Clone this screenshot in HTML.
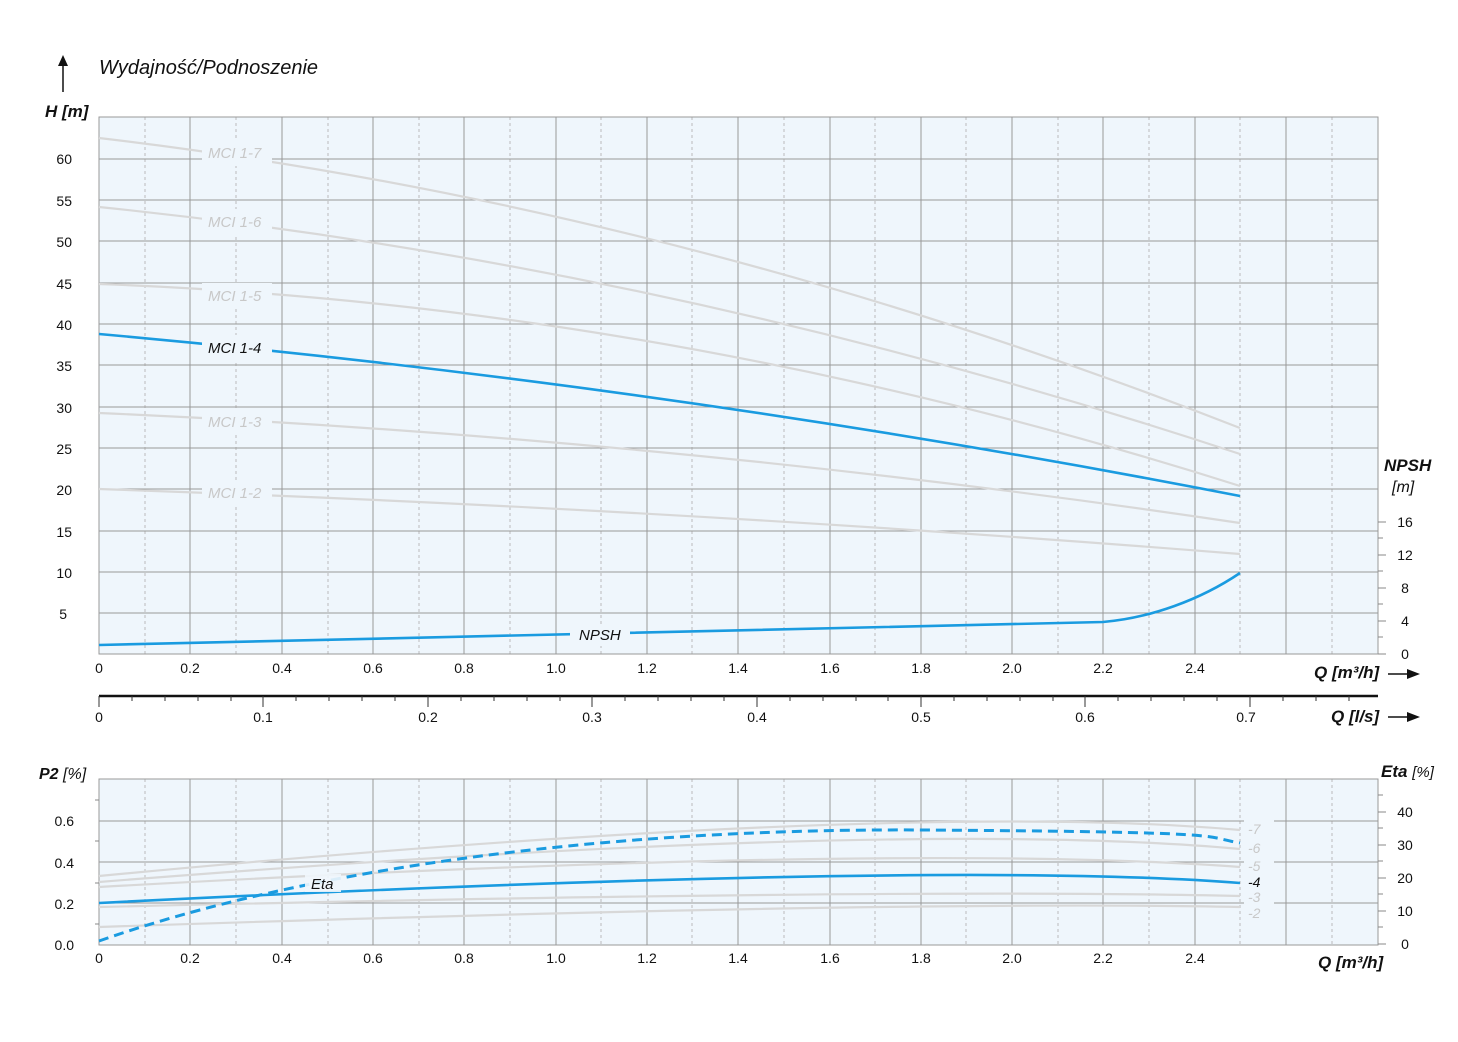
<!DOCTYPE html>
<html><head><meta charset="utf-8"><style>
html,body{margin:0;padding:0;background:#fff;}
svg{display:block;font-family:"Liberation Sans",sans-serif;}
.t{font-size:14px;fill:#111;}
.i{font-style:italic;}
</style></head><body>
<svg width="1458" height="1042" viewBox="0 0 1458 1042">
<!-- MAIN CHART -->
<rect x="99" y="117" width="1279" height="537" fill="#eff6fc"/>
<g stroke="#bbb" stroke-width="1" stroke-dasharray="3,3">
<line x1="145" y1="117" x2="145" y2="654"/><line x1="236" y1="117" x2="236" y2="654"/><line x1="328" y1="117" x2="328" y2="654"/><line x1="419" y1="117" x2="419" y2="654"/><line x1="510" y1="117" x2="510" y2="654"/><line x1="601" y1="117" x2="601" y2="654"/><line x1="692" y1="117" x2="692" y2="654"/><line x1="784" y1="117" x2="784" y2="654"/><line x1="875" y1="117" x2="875" y2="654"/><line x1="966" y1="117" x2="966" y2="654"/><line x1="1058" y1="117" x2="1058" y2="654"/><line x1="1149" y1="117" x2="1149" y2="654"/><line x1="1240" y1="117" x2="1240" y2="654"/><line x1="1332" y1="117" x2="1332" y2="654"/>
</g>
<g stroke="#999" stroke-width="1">
<line x1="190" y1="117" x2="190" y2="654"/><line x1="282" y1="117" x2="282" y2="654"/><line x1="373" y1="117" x2="373" y2="654"/><line x1="464" y1="117" x2="464" y2="654"/><line x1="556" y1="117" x2="556" y2="654"/><line x1="647" y1="117" x2="647" y2="654"/><line x1="738" y1="117" x2="738" y2="654"/><line x1="830" y1="117" x2="830" y2="654"/><line x1="921" y1="117" x2="921" y2="654"/><line x1="1012" y1="117" x2="1012" y2="654"/><line x1="1103" y1="117" x2="1103" y2="654"/><line x1="1195" y1="117" x2="1195" y2="654"/><line x1="1286" y1="117" x2="1286" y2="654"/>
<line x1="99" y1="159" x2="1378" y2="159"/><line x1="99" y1="200" x2="1378" y2="200"/><line x1="99" y1="241" x2="1378" y2="241"/><line x1="99" y1="283" x2="1378" y2="283"/><line x1="99" y1="324" x2="1378" y2="324"/><line x1="99" y1="365" x2="1378" y2="365"/><line x1="99" y1="407" x2="1378" y2="407"/><line x1="99" y1="448" x2="1378" y2="448"/><line x1="99" y1="489" x2="1378" y2="489"/><line x1="99" y1="531" x2="1378" y2="531"/><line x1="99" y1="572" x2="1378" y2="572"/><line x1="99" y1="613" x2="1378" y2="613"/>
</g>
<rect x="99" y="117" width="1279" height="537" fill="none" stroke="#999"/>
<g fill="none" stroke="#d8d8d8" stroke-width="2.2">
<path d="M99,138 Q669.5,205 1240,428"/>
<path d="M99,207 Q669.5,265.5 1240,454"/>
<path d="M99,284 Q669.5,305 1240,486"/>
<path d="M99,413 Q669.5,438 1240,523"/>
<path d="M99,489 Q669.5,508.5 1240,554"/>
</g>
<path d="M99,334 Q669.5,385 1240,496" fill="none" stroke="#1a9be0" stroke-width="2.6"/>
<path d="M99,645 L1103,622 C1150,618 1200,600 1240,573" fill="none" stroke="#1a9be0" stroke-width="2.6"/>
<g fill="#eff6fc">
<rect x="202" y="140" width="70" height="26"/><rect x="202" y="209" width="70" height="26"/><rect x="202" y="283" width="70" height="26"/><rect x="202" y="335" width="70" height="26"/><rect x="202" y="409" width="70" height="26"/><rect x="202" y="480" width="70" height="26"/><rect x="570" y="624" width="60" height="22"/>
</g>
<g class="i" font-size="15" fill="#c8c8c8">
<text x="208" y="158">MCI 1-7</text><text x="208" y="227">MCI 1-6</text><text x="208" y="301">MCI 1-5</text><text x="208" y="427">MCI 1-3</text><text x="208" y="498">MCI 1-2</text>
</g>
<text x="208" y="353" class="i" font-size="15" fill="#111">MCI 1-4</text>
<text x="579" y="640" class="i" font-size="15" fill="#111">NPSH</text>
<!-- left labels -->
<g class="t" text-anchor="end">
<text x="72" y="164">60</text><text x="72" y="206">55</text><text x="72" y="247">50</text><text x="72" y="289">45</text><text x="72" y="330">40</text><text x="72" y="371">35</text><text x="72" y="413">30</text><text x="72" y="454">25</text><text x="72" y="495">20</text><text x="72" y="537">15</text><text x="72" y="578">10</text><text x="67" y="619">5</text>
</g>
<text x="99" y="74" class="i" font-size="20" fill="#111">Wydajność/Podnoszenie</text>
<line x1="63" y1="92" x2="63" y2="62" stroke="#111" stroke-width="1.5"/><path d="M58,66 L63,55 L68,66 Z" fill="#111"/>
<text x="45" y="117" class="i" font-size="17" font-weight="bold" fill="#111">H [m]</text>
<!-- x labels main -->
<g class="t" text-anchor="middle">
<text x="99" y="673">0</text><text x="190" y="673">0.2</text><text x="282" y="673">0.4</text><text x="373" y="673">0.6</text><text x="464" y="673">0.8</text><text x="556" y="673">1.0</text><text x="647" y="673">1.2</text><text x="738" y="673">1.4</text><text x="830" y="673">1.6</text><text x="921" y="673">1.8</text><text x="1012" y="673">2.0</text><text x="1103" y="673">2.2</text><text x="1195" y="673">2.4</text>
</g>
<text x="1314" y="678" class="i" font-size="17" font-weight="bold" fill="#111">Q [m³/h]</text>
<line x1="1388" y1="674" x2="1412" y2="674" stroke="#111" stroke-width="1.5"/><path d="M1407,669 L1420,674 L1407,679 Z" fill="#111"/>
<!-- NPSH axis -->
<text x="1384" y="471" class="i" font-size="17" font-weight="bold" fill="#111">NPSH</text>
<text x="1392" y="492" class="i" font-size="16" fill="#111">[m]</text>
<g stroke="#888"><line x1="1378" y1="654" x2="1386" y2="654"/><line x1="1378" y1="637" x2="1383" y2="637"/><line x1="1378" y1="621" x2="1386" y2="621"/><line x1="1378" y1="604" x2="1383" y2="604"/><line x1="1378" y1="588" x2="1386" y2="588"/><line x1="1378" y1="571" x2="1383" y2="571"/><line x1="1378" y1="555" x2="1386" y2="555"/><line x1="1378" y1="538" x2="1383" y2="538"/><line x1="1378" y1="522" x2="1386" y2="522"/></g>
<g class="t" text-anchor="middle"><text x="1405" y="659">0</text><text x="1405" y="626">4</text><text x="1405" y="593">8</text><text x="1405" y="560">12</text><text x="1405" y="527">16</text></g>
<!-- l/s axis -->
<line x1="99" y1="696" x2="1378" y2="696" stroke="#111" stroke-width="2.5"/>
<g stroke="#333" stroke-width="1">
<line x1="99" y1="696" x2="99" y2="707"/><line x1="263" y1="696" x2="263" y2="707"/><line x1="428" y1="696" x2="428" y2="707"/><line x1="592" y1="696" x2="592" y2="707"/><line x1="757" y1="696" x2="757" y2="707"/><line x1="921" y1="696" x2="921" y2="707"/><line x1="1085" y1="696" x2="1085" y2="707"/><line x1="1250" y1="696" x2="1250" y2="707"/>
<path d="M132,696v5M165,696v5M198,696v5M231,696v5M296,696v5M329,696v5M362,696v5M395,696v5M461,696v5M494,696v5M527,696v5M560,696v5M625,696v5M658,696v5M691,696v5M724,696v5M790,696v5M823,696v5M856,696v5M888,696v5M954,696v5M987,696v5M1020,696v5M1053,696v5M1118,696v5M1151,696v5M1184,696v5M1217,696v5M1283,696v5M1316,696v5M1349,696v5"/>
</g>
<g class="t" text-anchor="middle">
<text x="99" y="722">0</text><text x="263" y="722">0.1</text><text x="428" y="722">0.2</text><text x="592" y="722">0.3</text><text x="757" y="722">0.4</text><text x="921" y="722">0.5</text><text x="1085" y="722">0.6</text><text x="1246" y="722">0.7</text>
</g>
<text x="1331" y="722" class="i" font-size="17" font-weight="bold" fill="#111">Q [l/s]</text>
<line x1="1388" y1="717" x2="1412" y2="717" stroke="#111" stroke-width="1.5"/><path d="M1407,712 L1420,717 L1407,722 Z" fill="#111"/>
<!-- LOWER CHART -->
<rect x="99" y="779" width="1279" height="166" fill="#eff6fc"/>
<g stroke="#bbb" stroke-width="1" stroke-dasharray="3,3">
<line x1="145" y1="779" x2="145" y2="945"/><line x1="236" y1="779" x2="236" y2="945"/><line x1="328" y1="779" x2="328" y2="945"/><line x1="419" y1="779" x2="419" y2="945"/><line x1="510" y1="779" x2="510" y2="945"/><line x1="601" y1="779" x2="601" y2="945"/><line x1="692" y1="779" x2="692" y2="945"/><line x1="784" y1="779" x2="784" y2="945"/><line x1="875" y1="779" x2="875" y2="945"/><line x1="966" y1="779" x2="966" y2="945"/><line x1="1058" y1="779" x2="1058" y2="945"/><line x1="1149" y1="779" x2="1149" y2="945"/><line x1="1240" y1="779" x2="1240" y2="945"/><line x1="1332" y1="779" x2="1332" y2="945"/>
</g>
<g stroke="#999" stroke-width="1">
<line x1="190" y1="779" x2="190" y2="945"/><line x1="282" y1="779" x2="282" y2="945"/><line x1="373" y1="779" x2="373" y2="945"/><line x1="464" y1="779" x2="464" y2="945"/><line x1="556" y1="779" x2="556" y2="945"/><line x1="647" y1="779" x2="647" y2="945"/><line x1="738" y1="779" x2="738" y2="945"/><line x1="830" y1="779" x2="830" y2="945"/><line x1="921" y1="779" x2="921" y2="945"/><line x1="1012" y1="779" x2="1012" y2="945"/><line x1="1103" y1="779" x2="1103" y2="945"/><line x1="1195" y1="779" x2="1195" y2="945"/><line x1="1286" y1="779" x2="1286" y2="945"/>
<line x1="99" y1="821" x2="1378" y2="821"/><line x1="99" y1="862" x2="1378" y2="862"/><line x1="99" y1="903" x2="1378" y2="903"/>
</g>
<rect x="99" y="779" width="1279" height="166" fill="none" stroke="#999"/>
<g fill="none" stroke="#d8d8d8" stroke-width="2.2">
<path d="M99,876 Q900,800 1240,830"/>
<path d="M99,882 Q900,818 1240,849"/>
<path d="M99,887 Q900,842 1240,867"/>
<path d="M99,907 Q900,888 1240,896"/>
<path d="M99,927 Q900,900 1240,907"/>
</g>
<rect x="1244" y="820" width="30" height="100" fill="#eff6fc"/>
<path d="M99,903 Q950,860 1240,883" fill="none" stroke="#1a9be0" stroke-width="2.6"/>
<path d="M99,941 C300,870 600,828 921,830 S1200,836 1240,843" fill="none" stroke="#1a9be0" stroke-width="3" stroke-dasharray="10,6"/>
<rect x="305" y="874" width="36" height="18" fill="#eff6fc" opacity="0.9"/>
<text x="311" y="889" class="i" font-size="15" fill="#111">Eta</text>
<g class="i" font-size="14" fill="#c8c8c8">
<text x="1248" y="834">-7</text><text x="1248" y="853">-6</text><text x="1248" y="871">-5</text><text x="1248" y="902">-3</text><text x="1248" y="918">-2</text>
</g>
<text x="1248" y="887" class="i" font-size="14" fill="#111">-4</text>
<g stroke="#888"><path d="M95,800h4M95,841h4M95,883h4M95,924h4"/>
<path d="M1378,944h8M1378,927h5M1378,911h8M1378,894h5M1378,878h8M1378,861h5M1378,845h8M1378,828h5M1378,812h8M1378,795h5"/></g>
<g class="t" text-anchor="end">
<text x="74" y="826">0.6</text><text x="74" y="868">0.4</text><text x="74" y="909">0.2</text><text x="74" y="950">0.0</text>
</g>
<g class="t" text-anchor="middle"><text x="1405" y="949">0</text><text x="1405" y="916">10</text><text x="1405" y="883">20</text><text x="1405" y="850">30</text><text x="1405" y="817">40</text></g>
<text x="39" y="779" class="i" font-size="16" font-weight="bold" fill="#111">P2 <tspan font-weight="normal">[%]</tspan></text>
<text x="1381" y="777" class="i" font-size="17" font-weight="bold" fill="#111">Eta <tspan font-weight="normal" font-size="15">[%]</tspan></text>
<g class="t" text-anchor="middle">
<text x="99" y="963">0</text><text x="190" y="963">0.2</text><text x="282" y="963">0.4</text><text x="373" y="963">0.6</text><text x="464" y="963">0.8</text><text x="556" y="963">1.0</text><text x="647" y="963">1.2</text><text x="738" y="963">1.4</text><text x="830" y="963">1.6</text><text x="921" y="963">1.8</text><text x="1012" y="963">2.0</text><text x="1103" y="963">2.2</text><text x="1195" y="963">2.4</text>
</g>
<text x="1318" y="968" class="i" font-size="17" font-weight="bold" fill="#111">Q [m³/h]</text>
</svg>
</body></html>
